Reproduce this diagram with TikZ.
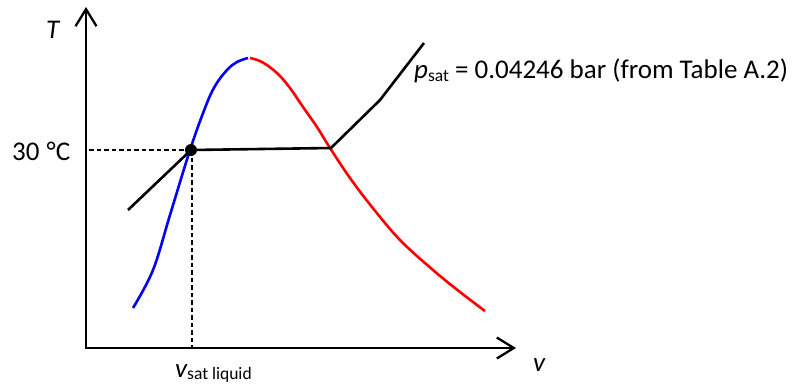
\documentclass[tikz,border=0pt]{standalone}
\usepackage{fontspec}
\setmainfont{Carlito}
\usetikzlibrary{arrows.meta}
\begin{document}
\begin{tikzpicture}[x=1pt,y=-1pt,
  axis/.style={line width=2.3pt, line join=miter, {Straight Barb[length=17pt,width=21pt,line width=2.3pt]}-{Straight Barb[length=17pt,width=21pt,line width=2.3pt]}},
  curve/.style={line width=2.6pt},
  guide/.style={line width=1.1pt, dash pattern=on 4.5pt off 3pt},
  lbl/.style={inner sep=0pt, anchor=base west, font=\fontsize{27}{32}\selectfont}]
\useasboundingbox (0,0) rectangle (792,386);
% axes
\coordinate (O) at (86,348);
\coordinate (Ttip) at (86,7);
\coordinate (vtip) at (516,348);
\draw[axis] (Ttip) -- (O) -- (vtip);
% saturated liquid line (blue)
\draw[curve, blue] plot[smooth, tension=0.6] coordinates {(133,308) (153,270) (170,215) (190,150) (205,108) (215,86) (227,70) (237,62) (248,58)};
% saturated vapour line (red)
\draw[curve, red] plot[smooth, tension=0.6] coordinates {(250,58) (262,62) (277,73) (290,88) (303,107) (317,127) (330,148) (350,178) (372,207) (400,240) (433,270) (460,292) (485,311)};
% isobar
\node[circle, fill=black, inner sep=0pt, minimum size=12pt] (sat) at (191,150) {};
\coordinate (a) at (128,210);
\coordinate (b) at (331,148);
\coordinate (c) at (380,100);
\coordinate (d) at (424,43);
\draw[curve, black, line join=miter] (a) -- (sat.center) -- (b) -- (c) -- (d);
% guide lines
\coordinate (gT) at (89,150);
\coordinate (gv) at (192,348);
\draw[guide] (sat.center) -- (gT);
\draw[guide] (192,150) -- (gv);
% labels
\node[lbl] (Tlab) at (46,38) {\itshape T};
\node[lbl] (vlab) at (533,371) {\itshape v};
\node[lbl] (temp) at (12,160) {30\kern1pt\ °C};
\node[lbl] (vsat) at (175,377) {\itshape v\upshape\raisebox{-2pt}{\fontsize{17.5}{20}\selectfont sat liquid}};
\node[lbl] (psat) at (414,78) {\itshape p\upshape\raisebox{-3pt}{\fontsize{17.5}{20}\selectfont sat} = 0.04246 bar (from Table A.2)};
\end{tikzpicture}
\end{document}
